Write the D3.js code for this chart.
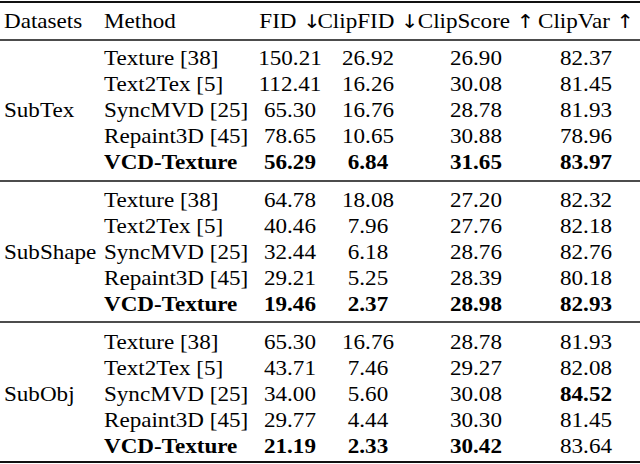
<!DOCTYPE html>
<html><head><meta charset="utf-8">
<script src="https://cdn.jsdelivr.net/npm/d3@7"></script>
<style>body{margin:0;background:#fff}</style>
</head><body><div id="chart"></div>
<script>
var headers = ["Datasets", "Method", "FID", "ClipFID", "ClipScore", "ClipVar"];
var arrows = ["", "", "\u2193", "\u2193", "\u2191", "\u2191"];
var datasets = ["SubTex", "SubShape", "SubObj"];
var methods = ["Texture [38]", "Text2Tex [5]", "SyncMVD [25]", "Repaint3D [45]", "VCD-Texture"];
var fid = [[150.21, 112.41, 65.30, 78.65, 56.29], [64.78, 40.46, 32.44, 29.21, 19.46], [65.30, 43.71, 34.00, 29.77, 21.19]];
var clipFid = [[26.92, 16.26, 16.76, 10.65, 6.84], [18.08, 7.96, 6.18, 5.25, 2.37], [16.76, 7.46, 5.60, 4.44, 2.33]];
var clipScore = [[26.90, 30.08, 28.78, 30.88, 31.65], [27.20, 27.76, 28.76, 28.39, 28.98], [28.78, 29.27, 30.08, 30.30, 30.42]];
var clipVar = [[82.37, 81.45, 81.93, 78.96, 83.97], [82.32, 82.18, 82.76, 80.18, 82.93], [81.93, 82.08, 84.52, 81.45, 83.64]];
// bold cells: [group, row, metric]
var bold = [[2, 2, 3]];

var svg = d3.select("#chart").append("svg").attr("width", 640).attr("height", 464);

var sx = 1.1;
var t = svg.append("g").attr("transform", "scale(" + sx + ",1)")
    .style("font-family", "'Liberation Serif', serif").style("font-size", "21px").attr("fill", "#000");

var colX = [4, 104, 290, 368, 476, 586].map(function (v) { return v / sx; });
var y = d3.scaleLinear().domain([0, 1]).range([0, 25.8]);
var groupTop = [58, 200, 342];

function rule(yy, w) {
    svg.append("line").attr("x1", 0).attr("x2", 640).attr("y1", yy).attr("y2", yy)
        .attr("stroke", "#111").attr("stroke-width", w);
}
rule(2, 2.2); rule(40, 1.4); rule(181, 1.4); rule(322, 1.4); rule(462, 2.2);

headers.forEach(function (h, i) {
    var tx = t.append("text").attr("x", colX[i]).attr("y", 21).attr("dy", "0.35em")
        .attr("text-anchor", i < 2 ? "start" : "middle").text(h);
    if (arrows[i]) tx.append("tspan").style("font-family", "'DejaVu Sans'").attr("fill", "#000")
        .style("font-size", "19px").text(" " + arrows[i]);
});

datasets.forEach(function (ds, g) {
    var g0 = groupTop[g];
    t.append("text").attr("x", colX[0]).attr("y", g0 + y(2)).attr("dy", "0.35em").text(ds);
    methods.forEach(function (m, r) {
        var yy = g0 + y(r);
        var last = r === methods.length - 1;
        t.append("text").attr("x", colX[1]).attr("y", yy).attr("dy", "0.35em")
            .attr("font-weight", last ? "bold" : null).text(m);
        [fid, clipFid, clipScore, clipVar].forEach(function (arr, k) {
            var isBold = last ? !(g === 2 && k === 3) : bold.some(function (b) { return b[0] === g && b[1] === r && b[2] === k; });
            t.append("text").attr("x", colX[k + 2]).attr("y", yy).attr("dy", "0.35em")
                .attr("text-anchor", "middle").attr("font-weight", isBold ? "bold" : null)
                .text(arr[g][r].toFixed(2));
        });
    });
});
</script></body></html>
